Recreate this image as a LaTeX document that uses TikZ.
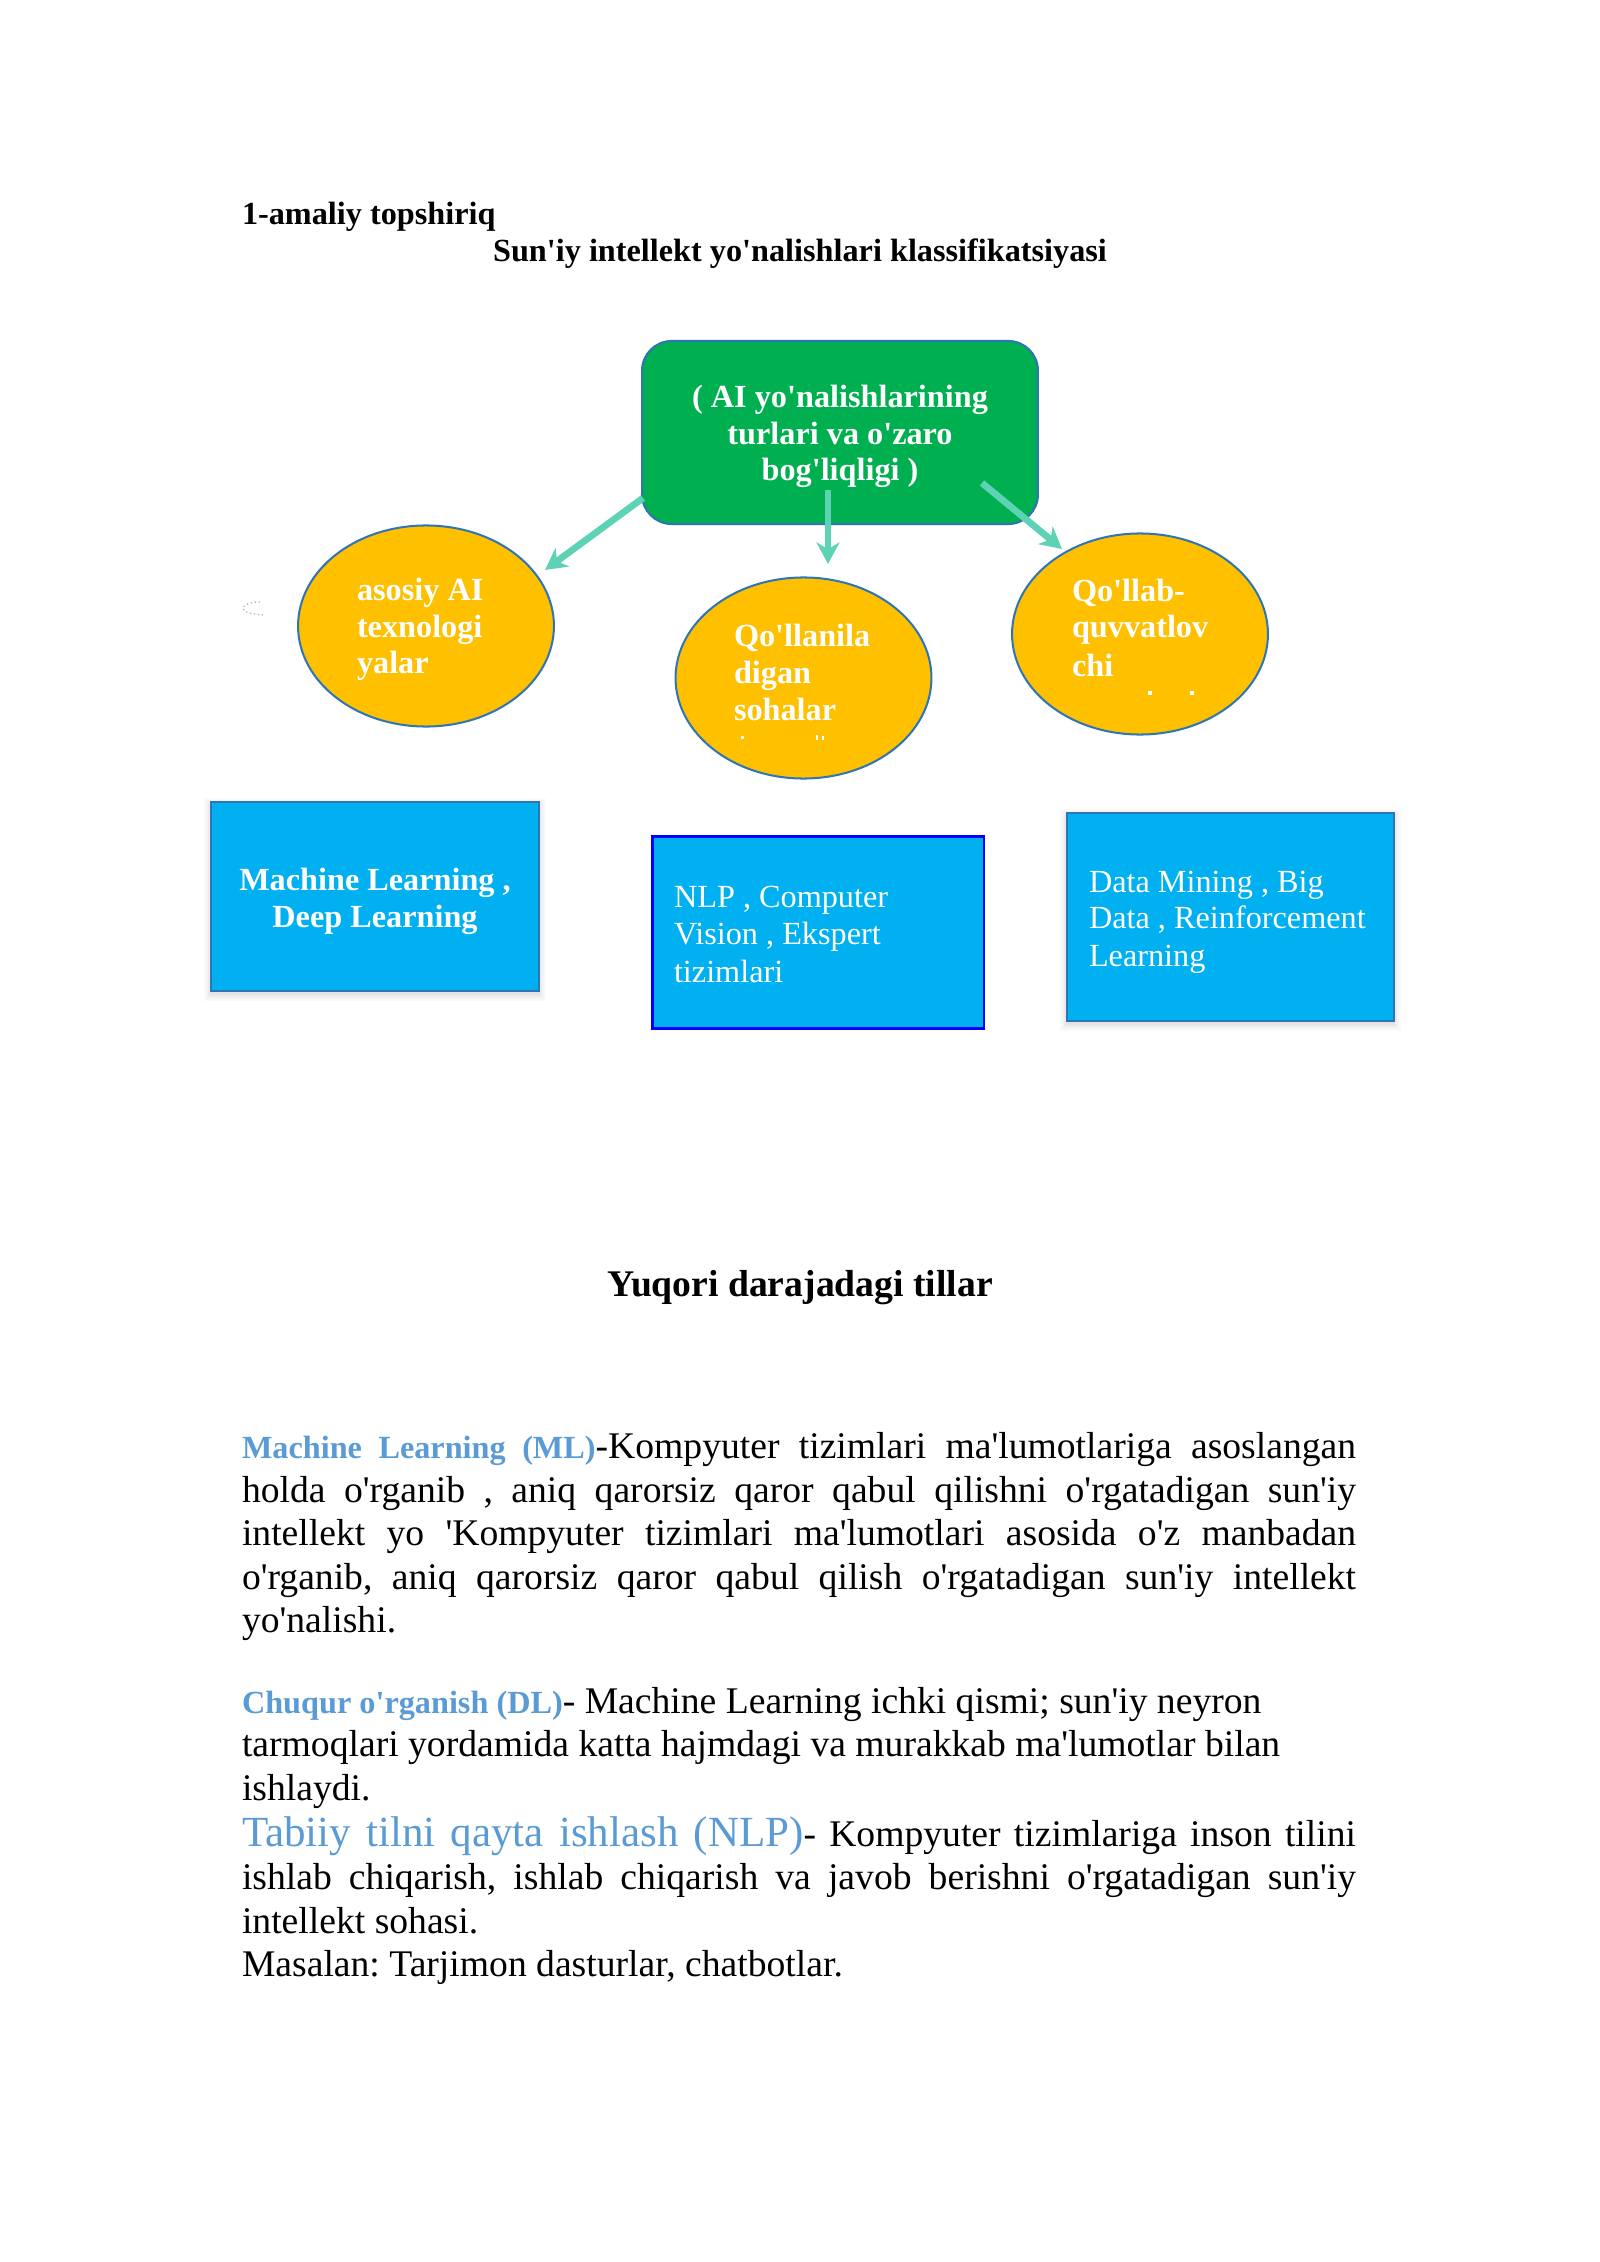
\documentclass[tikz,border=0pt]{standalone}
\usepackage{fontspec}
\setmainfont{Liberation Serif}[Ligatures=TeXOff]
\usetikzlibrary{shapes.geometric,arrows.meta}
\frenchspacing
\definecolor{gfill}{RGB}{0,176,80}
\definecolor{edgeblue}{RGB}{46,117,182}
\definecolor{yfill}{RGB}{255,192,0}
\definecolor{bfill}{RGB}{0,176,240}
\definecolor{pureblue}{RGB}{0,0,255}
\definecolor{mint}{RGB}{94,210,180}
\definecolor{lblue}{RGB}{91,155,213}
\definecolor{faintgray}{RGB}{185,185,185}
\newcommand{\jline}[1]{\makebox[414.5pt][s]{#1}}
\newcommand{\labsm}[1]{{\color{lblue}\bfseries\fontsize{12}{13.8}\selectfont #1}}
\newcommand{\labbig}[1]{{\color{lblue}\fontsize{16}{18.4}\selectfont #1}}
\begin{document}
\begin{tikzpicture}[x=0.37206pt,y=-0.37206pt,
  txt/.style={inner sep=0pt, outer sep=0pt},
  lt/.style={txt, anchor=base west},
  ct/.style={txt, anchor=base},
  smallr/.style={font=\fontsize{12}{13.8}\selectfont},
  smallb/.style={font=\fontsize{12}{13.8}\selectfont\bfseries},
  body/.style={lt, font=\fontsize{14}{16.1}\selectfont},
  wb/.style={lt, smallb, text=white},
  wr/.style={lt, smallr, text=white},
  ellnode/.style={ellipse, draw=edgeblue, line width=0.75pt, fill=yfill,
    minimum width=95.2pt, minimum height=74.8pt, inner sep=0pt},
  bluebox/.style={rectangle, fill=bfill, inner sep=0pt},
  conn/.style={draw=mint, line width=2.5pt,
    -{Stealth[length=8pt,width=8.5pt,inset=2.5pt]}},
  speck/.style={fill=white}
]
\useasboundingbox (0,0) rectangle (1600,2262);
\fill[white] (0,0) rectangle (1600,2262);

% titles
\node[lt, smallb] (t1) at (242,225) {1-amaliy topshiriq};
\node[ct, smallb] (t2) at (800,262) {Sun'iy intellekt yo'nalishlari klassifikatsiyasi};

% central box
\node[draw=edgeblue, line width=0.75pt, fill=gfill, rounded corners=11pt,
  minimum width=147.3pt, minimum height=68.1pt, inner sep=0pt] (g) at (840,432.5) {};
\node[ct, smallb, text=white] (g1) at (840,408) {( AI yo'nalishlarining};
\node[ct, smallb, text=white] (g2) at (840,445) {turlari va o'zaro};
\node[ct, smallb, text=white] (g3) at (840,481) {bog'liqligi )};

% ellipses
\node[ellnode] (eL) at (426,626) {};
\node[ellnode] (eM) at (803.5,678) {};
\node[ellnode] (eR) at (1140,634) {};

\node[wb] (eL1) at (357,600) {asosiy AI};
\node[wb] (eL2) at (357,637) {texnologi};
\node[wb] (eL3) at (357,673) {yalar};

\node[wb] (eM1) at (734,647) {Qo'llanila};
\node[wb] (eM2) at (734,683) {digan};
\node[wb] (eM3) at (734,720) {sohalar};
\fill[speck] (741,736) rectangle (744,739);
\fill[speck] (816,735) rectangle (818,740);
\fill[speck] (822,736) rectangle (824,740);

\node[wb] (eR1) at (1072,602) {Qo'llab-};
\node[wb] (eR2) at (1072,638) {quvvatlov};
\node[wb] (eR3) at (1072,676) {chi};
\fill[speck] (1148,691) rectangle (1152,695);
\fill[speck] (1190,691) rectangle (1194,695);

% stray mark
\draw[faintgray, line width=0.5pt, densely dotted]
  (260,602) .. controls (248,602) and (242,606) .. (243,609)
  .. controls (244,613) and (254,614) .. (263,615);

% arrows
\coordinate (aL1) at (643,498); \coordinate (aL2) at (545,570);
\coordinate (aM1) at (828,490); \coordinate (aM2) at (828,564);
\coordinate (aR1) at (982,483); \coordinate (aR2) at (1062,549);
\draw[conn] (aL1) -- (aL2);
\draw[conn] (aM1) -- (aM2);
\draw[conn] (aR1) -- (aR2);

% soft shadows
\foreach \d/\o in {7/0.02,5/0.025,3/0.03,1/0.035}{
  \fill[black, opacity=\o] (211-\d,802-\d+3) rectangle (539+\d,991+\d+3);
  \fill[black, opacity=\o] (1067-\d,813-\d+3) rectangle (1394+\d,1021+\d+3);
}

% blue boxes
\node[bluebox, draw=edgeblue, line width=0.75pt, minimum width=122.0pt, minimum height=70.3pt] (b1) at (375,896.5) {};
\node[bluebox, draw=pureblue, line width=1.1pt, minimum width=123.5pt, minimum height=71.1pt] (b2) at (818,932.5) {};
\node[bluebox, draw=edgeblue, line width=0.75pt, minimum width=121.7pt, minimum height=77.4pt] (b3) at (1230.5,917) {};

\node[ct, smallb, text=white] (b1a) at (375,890) {Machine Learning ,};
\node[ct, smallb, text=white] (b1b) at (375,927) {Deep Learning};

\node[wr] (b2a) at (674,907) {NLP , Computer};
\node[wr] (b2b) at (674,944) {Vision , Ekspert};
\node[wr] (b2c) at (674,982) {tizimlari};

\node[wr] (b3a) at (1089,892) {Data Mining , Big};
\node[wr] (b3b) at (1089,928) {Data , Reinforcement};
\node[wr] (b3c) at (1089,966) {Learning};

% heading
\node[ct, font=\fontsize{14}{16.1}\selectfont\bfseries] (h) at (800,1296) {Yuqori darajadagi tillar};

% paragraph 1
\node[body] (p1a) at (242,1458) {\jline{\labsm{Machine Learning (ML)}-Kompyuter tizimlari ma'lumotlariga asoslangan}};
\node[body] (p1b) at (242,1502) {\jline{holda o'rganib , aniq qarorsiz qaror qabul qilishni o'rgatadigan sun'iy}};
\node[body] (p1c) at (242,1545) {\jline{intellekt yo 'Kompyuter tizimlari ma'lumotlari asosida o'z manbadan}};
\node[body] (p1d) at (242,1589) {\jline{o'rganib, aniq qarorsiz qaror qabul qilish o'rgatadigan sun'iy intellekt}};
\node[body] (p1e) at (242,1632) {yo'nalishi.};

% paragraph 2
\node[body] (p2a) at (242,1713) {\labsm{Chuqur o'rganish (DL)}- Machine Learning ichki qismi; sun'iy neyron};
\node[body] (p2b) at (242,1756) {tarmoqlari yordamida katta hajmdagi va murakkab ma'lumotlar bilan};
\node[body] (p2c) at (242,1800) {ishlaydi.};

% paragraph 3
\node[body] (p3a) at (242,1846) {\jline{\labbig{Tabiiy tilni qayta ishlash (NLP)}- Kompyuter tizimlariga inson tilini}};
\node[body] (p3b) at (242,1889) {\jline{ishlab chiqarish, ishlab chiqarish va javob berishni o'rgatadigan sun'iy}};
\node[body] (p3c) at (242,1933) {intellekt sohasi.};
\node[body] (p3d) at (242,1976) {Masalan: Tarjimon dasturlar, chatbotlar.};
\end{tikzpicture}
\end{document}
